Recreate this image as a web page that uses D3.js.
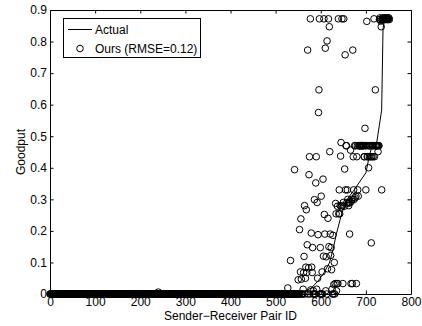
<!DOCTYPE html>
<html><head><meta charset="utf-8">
<script src="https://cdn.jsdelivr.net/npm/d3@7"></script>
<style>
html,body{margin:0;padding:0;background:#fff;}
svg{display:block;}
text{font-family:"Liberation Sans",Arial,sans-serif;font-size:12px;fill:#000;}
</style>
</head><body>
<svg id="c" width="422" height="326"></svg>
<script>
// ---- data ----
const xTicks = [0,100,200,300,400,500,600,700,800];
const yTicks = [0,0.1,0.2,0.3,0.4,0.5,0.6,0.7,0.8,0.9];
const yTickLabels = ["0","0.1","0.2","0.3","0.4","0.5","0.6","0.7","0.8","0.9"];
const xLabel = "Sender\u2212Receiver Pair ID";
const yLabel = "Goodput";
const legendLabels = ["Actual", "Ours (RMSE=0.12)"];

// Actual goodput (sorted), knots of the drawn line: pair ID and value
const actualIds  = [0, 545, 556, 579, 594, 607, 619, 627, 634, 645, 656, 674, 700, 708, 714, 724, 735, 738, 741, 752];
const actualVals = [0, 0, 0.003, 0.019, 0.041, 0.067, 0.098, 0.139, 0.187, 0.247, 0.295, 0.33, 0.384, 0.44, 0.47, 0.48, 0.583, 0.84, 0.87, 0.875];

// Our estimate, one value per pair ID (index = pair ID, 20 per row)
const ours = [
/*   0 */ 0,0,0,0,0,0,0,0,0,0, 0,0,0,0,0,0,0,0,0,0,
/*  20 */ 0,0,0,0,0,0,0,0,0,0, 0,0,0,0,0,0,0,0,0,0,
/*  40 */ 0,0,0,0,0,0,0,0,0,0, 0,0,0,0,0,0,0,0,0,0,
/*  60 */ 0,0,0,0,0,0,0,0,0,0, 0,0,0,0,0,0,0,0,0,0,
/*  80 */ 0,0,0,0,0,0,0,0,0,0, 0,0,0,0,0,0,0,0,0,0,
/* 100 */ 0,0,0,0,0,0,0,0,0,0, 0,0,0,0,0,0,0,0,0,0,
/* 120 */ 0,0,0,0,0,0,0,0,0,0, 0,0,0,0,0,0,0,0,0,0,
/* 140 */ 0,0,0,0,0,0,0,0,0,0, 0,0,0,0,0,0,0,0,0,0,
/* 160 */ 0,0,0,0,0,0,0,0,0,0, 0,0,0,0,0,0,0,0,0,0,
/* 180 */ 0,0,0,0,0,0,0,0,0,0, 0,0,0,0,0,0,0,0,0,0,
/* 200 */ 0,0,0,0,0,0,0,0,0,0, 0,0,0,0,0,0,0,0,0,0,
/* 220 */ 0,0,0,0,0,0,0,0,0,0, 0,0,0,0,0,0,0,0,0,0,
/* 240 */ 0.006,0,0,0,0,0,0,0,0,0, 0,0,0,0,0,0,0,0,0,0,
/* 260 */ 0,0,0,0,0,0,0,0,0,0, 0,0,0,0,0,0,0,0,0,0,
/* 280 */ 0,0,0,0,0,0,0,0,0,0, 0,0,0,0,0,0,0,0,0,0,
/* 300 */ 0,0,0,0,0,0,0,0,0,0, 0,0,0,0,0,0,0,0,0,0,
/* 320 */ 0,0,0,0,0,0,0,0,0,0, 0,0,0,0,0,0,0,0,0,0,
/* 340 */ 0,0,0,0,0,0,0,0,0,0, 0,0,0,0,0,0,0,0,0,0,
/* 360 */ 0,0,0,0,0,0,0,0,0,0, 0,0,0,0,0,0,0,0,0,0,
/* 380 */ 0,0,0,0,0,0,0,0,0,0, 0,0,0,0,0,0,0,0,0,0,
/* 400 */ 0,0,0,0,0,0,0,0,0,0, 0,0,0,0,0,0,0,0,0,0,
/* 420 */ 0,0,0,0,0,0,0,0,0,0, 0,0,0,0,0,0,0,0,0,0,
/* 440 */ 0,0,0,0,0,0,0,0,0,0, 0,0,0,0,0,0,0,0,0,0,
/* 460 */ 0,0,0,0,0,0,0,0,0,0, 0,0,0,0,0,0,0,0,0,0,
/* 480 */ 0,0,0,0,0,0,0,0,0,0, 0,0,0,0,0,0,0,0,0,0,
/* 500 */ 0,0,0,0,0,0,0,0,0,0, 0,0,0,0,0,0,0,0,0,0,
/* 520 */ 0,0,0,0,0,0,0,0.019,0,0, 0,0,0,0.106,0,0,0,0,0,0,
/* 540 */ 0,0,0.394,0,0,0,0,0,0,0, 0.045,0,0,0.204,0,0.07,0.238,0.047,0,0,
/* 560 */ 0,0.015,0.068,0.119,0.28,0,0.05,0.085,0.267,0.068, 0.156,0.773,0,0.083,0.378,0.435,0,0.872,0.013,0.193,
/* 580 */ 0.085,0.068,0.147,0,0.01,0,0.299,0,0,0.352, 0.435,0.015,0.29,0.05,0.188,0.575,0.647,0.872,0,0.147,
/* 600 */ 0,0.31,0,0.07,0,0.364,0.12,0.872,0.252,0.19, 0.779,0.01,0.118,0,0.802,0.08,0.24,0.872,0.15,0.847,
/* 620 */ 0.451,0.19,0.122,0.147,0.077,0.015,0,0.186,0,0.03, 0.10,0,0.033,0.287,0.254,0.01,0.033,0.278,0.033,0.872,
/* 640 */ 0.254,0.33,0.254,0.28,0.437,0.48,0.276,0.872,0.28,0.033, 0.29,0.872,0.278,0.396,0.758,0.33,0.47,0.47,0.29,0.33,
/* 660 */ 0.3,0.287,0.28,0.29,0.19,0.29,0.456,0.033,0.294,0.3, 0.033,0.773,0.435,0.33,0.3,0.47,0.305,0.47,0.31,0.033,
/* 680 */ 0.435,0.47,0.33,0.31,0.47,0.47,0.47,0.47,0.47,0.47, 0.47,0.47,0.47,0.47,0.47,0.47,0.435,0.435,0.525,0.47,
/* 700 */ 0.33,0.47,0.864,0.435,0.435,0.47,0.40,0.47,0.435,0.47, 0.47,0.435,0.162,0.435,0.47,0.47,0.435,0.47,0.872,0.435,
/* 720 */ 0.47,0.647,0.47,0.47,0.47,0.47,0.47,0.451,0.47,0.47, 0.87,0.875,0.87,0.865,0.847,0.33,0.87,0.875,0.87,0.87,
/* 740 */ 0.875,0.87,0.87,0.875,0.87,0.87,0.875,0.87,0.87,0.875, 0.87,0.875,0.87
];

// ---- drawing ----
const svg = d3.select("#c");
svg.append("rect").attr("width",422).attr("height",326).attr("fill","#fff");

const L = 50, R = 411, T = 10, B = 294;
const x = d3.scaleLinear().domain([0, 800]).range([L, R]);
const y = d3.scaleLinear().domain([0, 0.9]).range([B, T]);
const TK = 3.5;

function styleAxis(g){
  g.selectAll("path.domain").attr("stroke","#000").attr("stroke-width",1);
  g.selectAll(".tick line").attr("stroke","#000").attr("stroke-width",1);
  g.attr("font-family",null).attr("font-size",null);
  g.selectAll("text").attr("fill","#000");
}

// plot layer
const plot = svg.append("g");

// scatter circles (ours)
plot.append("g").selectAll("circle")
  .data(ours)
  .join("circle")
  .attr("cx", (d,i) => x(i))
  .attr("cy", d => y(d))
  .attr("r", 3.3)
  .attr("fill", "none")
  .attr("stroke", "#000")
  .attr("stroke-width", 1);

// actual line
const line = d3.line().x(d => x(d[0])).y(d => y(d[1]));
plot.append("path")
  .datum(actualIds.map((id,i) => [id, actualVals[i]]))
  .attr("d", line)
  .attr("fill","none")
  .attr("stroke","#000")
  .attr("stroke-width",1);

// axes (inward ticks, box)
svg.append("g").attr("transform",`translate(0,${B})`)
  .call(d3.axisBottom(x).tickValues(xTicks).tickFormat(d3.format("d")).tickSizeInner(-TK).tickSizeOuter(0).tickPadding(3))
  .call(styleAxis);
svg.append("g").attr("transform",`translate(0,${T})`)
  .call(d3.axisTop(x).tickValues(xTicks).tickFormat("").tickSizeInner(-TK).tickSizeOuter(0))
  .call(styleAxis);
svg.append("g").attr("transform",`translate(${L},0)`)
  .call(d3.axisLeft(y).tickValues(yTicks).tickFormat((d,i) => yTickLabels[i]).tickSizeInner(-TK).tickSizeOuter(0).tickPadding(3))
  .call(styleAxis);
svg.append("g").attr("transform",`translate(${R},0)`)
  .call(d3.axisRight(y).tickValues(yTicks).tickFormat("").tickSizeInner(-TK).tickSizeOuter(0))
  .call(styleAxis);

// axis labels
svg.append("text").attr("x",(L+R)/2).attr("y",320).attr("text-anchor","middle").text(xLabel);
svg.append("text").attr("transform",`translate(24.5,${(T+B)/2}) rotate(-90)`).attr("text-anchor","middle").text(yLabel);

// legend
const lg = svg.append("g");
lg.append("rect").attr("x",63.5).attr("y",18.5).attr("width",137).attr("height",39)
  .attr("fill","#fff").attr("stroke","#000").attr("stroke-width",1);
lg.append("line").attr("x1",68).attr("x2",92).attr("y1",29.5).attr("y2",29.5)
  .attr("stroke","#000").attr("stroke-width",1);
lg.append("text").attr("x",95).attr("y",34).text(legendLabels[0]);
lg.append("circle").attr("cx",80).attr("cy",48.5).attr("r",3.3)
  .attr("fill","none").attr("stroke","#000").attr("stroke-width",1);
lg.append("text").attr("x",95).attr("y",52.5).text(legendLabels[1]);
</script>
</body></html>
